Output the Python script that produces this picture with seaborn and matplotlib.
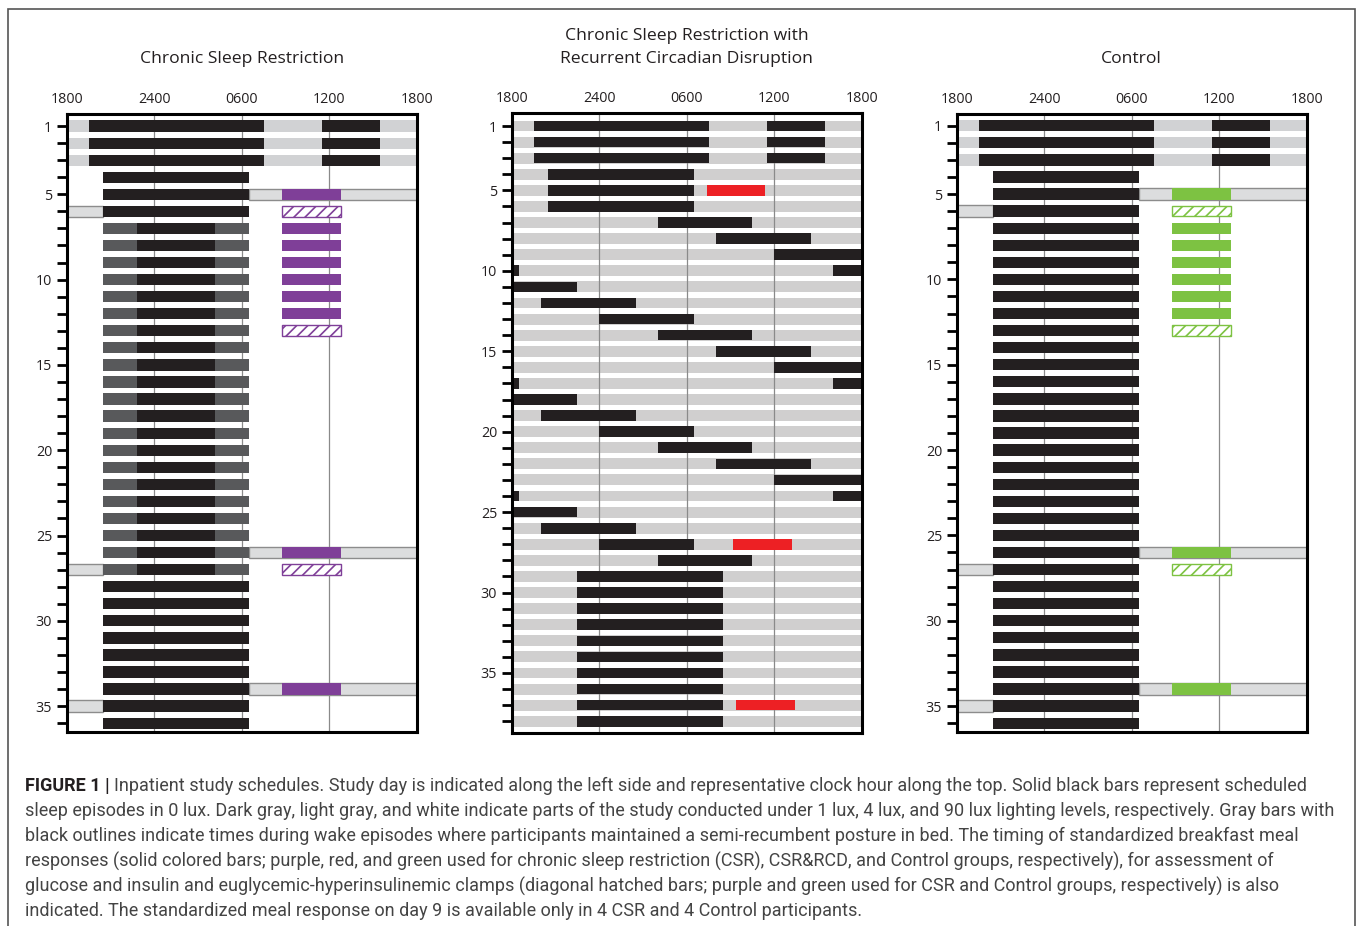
import matplotlib
matplotlib.use("Agg")
import matplotlib.pyplot as plt
from matplotlib.patches import Rectangle
import seaborn as sns

# clock positions are hours after 1800 (0 = 1800, 24 = 1800 next day)
clock_ticks = [0, 6, 12, 18, 24]
clock_labels = ["1800", "2400", "0600", "1200", "1800"]
day_labels = [1, 5, 10, 15, 20, 25, 30, 35]

# baseline days (all groups)
baseline_days = [1, 2, 3]
baseline_sleep = [(1.5, 13.5), (17.5, 21.5)]

# CSR and Control groups
n_days = 36
inpatient_days = list(range(4, 37))
inpatient_sleep = (2.5, 12.5)
csr_restricted_days = list(range(7, 28))
csr_dim_light = [(2.5, 4.8), (10.2, 12.5)]
csr_restricted_sleep = (4.8, 10.2)
bedrest_after_days = [5, 26, 34]
bedrest_after = (12.5, 24)
bedrest_before_days = [6, 27, 35]
bedrest_before = (0, 2.5)
meal_days = [5, 7, 8, 9, 10, 11, 12, 26, 34]
clamp_days = [6, 13, 27]
meal_time = (14.75, 18.8)

# CSR&RCD group (28-h days)
n_days_rcd = 38
rcd_sleep_day = [1, 1, 2, 2, 3, 3, 4, 5, 6, 7, 8, 9, 10, 10, 11, 12, 13, 14,
                 15, 16, 17, 17, 18, 19, 20, 21, 22, 23, 24, 24, 25, 26, 27, 28,
                 29, 30, 31, 32, 33, 34, 35, 36, 37, 38]
rcd_sleep_start = [1.5, 17.5, 1.5, 17.5, 1.5, 17.5, 2.5, 2.5, 2.5, 10, 14, 18, 0, 22,
                   0, 2, 6, 10, 14, 18, 0, 22, 0, 2, 6, 10, 14, 18, 0, 22, 0, 2, 6, 10,
                   4.5, 4.5, 4.5, 4.5, 4.5, 4.5, 4.5, 4.5, 4.5, 4.5]
rcd_sleep_end = [13.5, 21.5, 13.5, 21.5, 13.5, 21.5, 12.5, 12.5, 12.5, 16.5, 20.5, 24,
                 0.5, 24, 4.5, 8.5, 12.5, 16.5, 20.5, 24, 0.5, 24, 4.5, 8.5, 12.5, 16.5,
                 20.5, 24, 0.5, 24, 4.5, 8.5, 12.5, 16.5,
                 14.5, 14.5, 14.5, 14.5, 14.5, 14.5, 14.5, 14.5, 14.5, 14.5]
rcd_meal_day = [5, 27, 37]
rcd_meal_start = [13.4, 15.2, 15.4]
rcd_meal_end = [17.4, 19.2, 19.4]

caption_lines = [
    "Inpatient study schedules. Study day is indicated along the left side and representative clock hour along the top. Solid black bars represent scheduled",
    "sleep episodes in 0 lux. Dark gray, light gray, and white indicate parts of the study conducted under 1 lux, 4 lux, and 90 lux lighting levels, respectively. Gray bars with",
    "black outlines indicate times during wake episodes where participants maintained a semi-recumbent posture in bed. The timing of standardized breakfast meal",
    "responses (solid colored bars; purple, red, and green used for chronic sleep restriction (CSR), CSR&RCD, and Control groups, respectively), for assessment of",
    "glucose and insulin and euglycemic-hyperinsulinemic clamps (diagonal hatched bars; purple and green used for CSR and Control groups, respectively) is also",
    "indicated. The standardized meal response on day 9 is available only in 4 CSR and 4 Control participants.",
]

BLACK = "#231f20"
DARK = "#58595b"
LIGHT = "#d1d2d4"
BEDREST = "#dcddde"
PURPLE = "#7f3f98"
RED = "#ed2024"
GREEN = "#7dc242"

sns.set_theme(style="white")
plt.rcParams["font.family"] = ["Open Sans", "DejaVu Sans"]
plt.rcParams["hatch.linewidth"] = 1.2

W, H = 1358, 926
fig = plt.figure(figsize=(W / 100, H / 100), dpi=100)


def px_axes(x0, x1, y0, y1):
    return fig.add_axes([x0 / W, 1 - y1 / H, (x1 - x0) / W, (y1 - y0) / H])


def bar(ax, day, start, end, color, h, z=2, **kw):
    ax.barh(day, end - start, left=start, height=h, color=color, zorder=z,
            linewidth=0, **kw)


def frame(ax, nd, ylim):
    ax.set_xlim(0, 24)
    ax.set_ylim(*ylim)
    ax.xaxis.tick_top()
    ax.set_xticks(clock_ticks)
    ax.set_xticklabels(clock_labels, fontsize=10.3, color="#231f20")
    ax.set_yticks(list(range(1, nd + 1)))
    ax.set_yticklabels([str(d) if d in day_labels else "" for d in range(1, nd + 1)],
                       fontsize=10.3, color="#231f20")
    ax.tick_params(axis="x", length=0, pad=5)
    ax.tick_params(axis="y", left=True, length=7.5, width=2, direction="out", pad=3,
                   color="black")
    for s in ax.spines.values():
        s.set_linewidth(2.2)
        s.set_color("black")
        s.set_zorder(5)
    for t in clock_ticks[1:-1]:
        ax.axvline(t, color="#8a8a8a", lw=0.9, zorder=1.5)


def inpatient_panel(ax, meal_color, restricted):
    h = 0.66
    frame(ax, n_days, (36.5, 0.31))
    for d in baseline_days:
        bar(ax, d, 0, 24, LIGHT, h, z=1)
        for s, e in baseline_sleep:
            bar(ax, d, s, e, BLACK, h)
    for d in inpatient_days:
        if restricted and d in csr_restricted_days:
            for s, e in csr_dim_light:
                bar(ax, d, s, e, DARK, h)
            bar(ax, d, *csr_restricted_sleep, BLACK, h)
        else:
            bar(ax, d, *inpatient_sleep, BLACK, h)
    for d in bedrest_after_days:
        ax.barh(d, bedrest_after[1] - bedrest_after[0], left=bedrest_after[0], height=h,
                color=BEDREST, edgecolor="#8c8c8c", linewidth=1, zorder=1)
    for d in bedrest_before_days:
        ax.barh(d, bedrest_before[1] - bedrest_before[0], left=bedrest_before[0], height=h,
                color=BEDREST, edgecolor="#8c8c8c", linewidth=1, zorder=1)
    for d in meal_days:
        bar(ax, d, *meal_time, meal_color, h, z=3)
    for d in clamp_days:
        ax.barh(d, meal_time[1] - meal_time[0], left=meal_time[0], height=h * 0.95,
                facecolor="white", edgecolor=meal_color, hatch="///", linewidth=1, zorder=3)


ax1 = px_axes(66.7, 416.7, 114.3, 731.7)
inpatient_panel(ax1, PURPLE, True)

ax2 = px_axes(511.7, 861.7, 113.3, 733)
frame(ax2, n_days_rcd, (38.73, 0.21))
for d in range(1, n_days_rcd + 1):
    bar(ax2, d, 0, 24, "#d0cfcf", 0.68, z=1)
for d, s, e in zip(rcd_sleep_day, rcd_sleep_start, rcd_sleep_end):
    bar(ax2, d, s, e, BLACK, 0.66)
for d, s, e in zip(rcd_meal_day, rcd_meal_start, rcd_meal_end):
    bar(ax2, d, s, e, RED, 0.66, z=3)

ax3 = px_axes(956.7, 1306.7, 114.0, 731.7)
inpatient_panel(ax3, GREEN, False)

tcol = "#231f20"
tfs = 12.6
fig.text(241.7 / W, 1 - 59 / H, "Chronic Sleep Restriction", ha="center", va="center",
         fontsize=tfs, color=tcol)
fig.text(686.7 / W, 1 - 36 / H, "Chronic Sleep Restriction with", ha="center", va="center",
         fontsize=tfs, color=tcol)
fig.text(686.7 / W, 1 - 59 / H, "Recurrent Circadian Disruption", ha="center", va="center",
         fontsize=tfs, color=tcol)
fig.text(1131.7 / W, 1 - 59 / H, "Control", ha="center", va="center",
         fontsize=tfs, color=tcol)

# caption, sized so the second (longest) line spans the text block
cap_font = ["Roboto", "DejaVu Sans"]
cap_col = "#444444"
fs = 11
head = fig.text(25 / W, 1 - 786 / H, "FIGURE 1 |", fontsize=fs, fontweight="bold",
                family=cap_font, color="#231f20", va="center")
rest = [fig.text(25 / W, 1 - (786 + 25 * i) / H, line, fontsize=fs, family=cap_font,
                 color=cap_col, va="center")
        for i, line in enumerate(caption_lines)]
r = fig.canvas.get_renderer()
w1 = rest[1].get_window_extent(r).width
scale = 1298 / w1
fs2 = fs * scale
head.set_fontsize(fs2)
for t in rest:
    t.set_fontsize(fs2)
wh = head.get_window_extent(r).width
rest[0].set_x((25 + wh + fs2 * 0.3) / W)

fig.add_artist(Rectangle((8 / W, -0.05), (1355 - 8) / W, 1.05 - 9 / H, transform=fig.transFigure,
                         fill=False, edgecolor="#555555", linewidth=1.2))

fig.savefig("out.png", dpi=100)
